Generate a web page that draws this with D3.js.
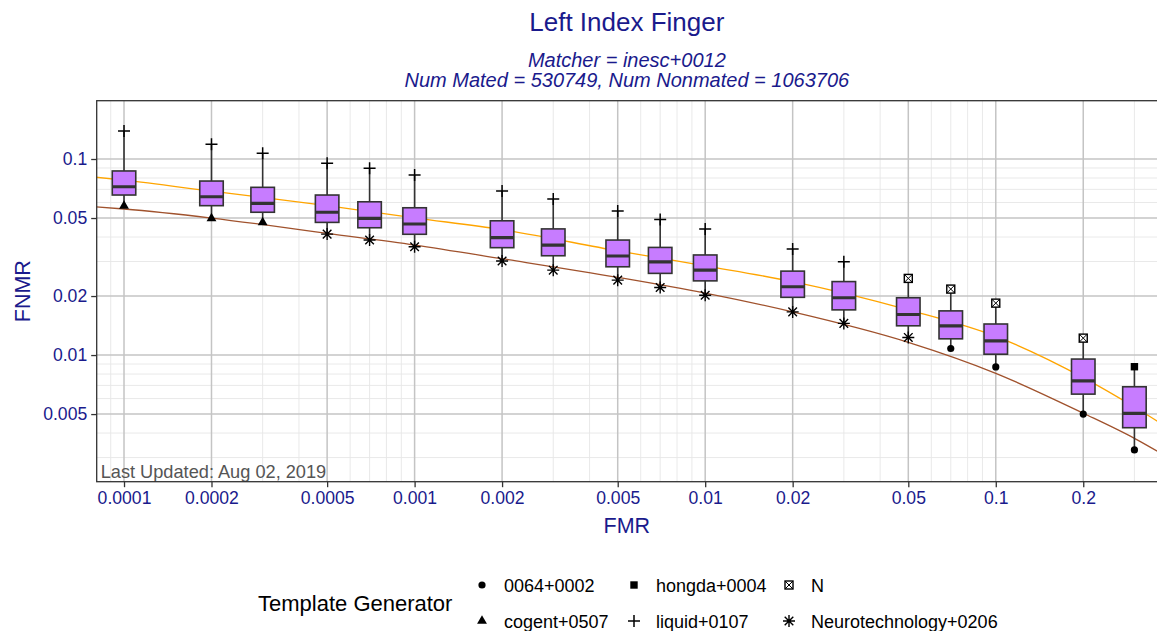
<!DOCTYPE html>
<html>
<head>
<meta charset="utf-8">
<script src="https://d3js.org/d3.v7.min.js"></script>
<style>
  body { margin: 0; background: #fff; }
  svg { font-family: "Liberation Sans", Arial, sans-serif; }
</style>
</head>
<body>
<svg id="chart" width="1157" height="631"></svg>
<script>
// operating points (FMR) with FNMR spread over template generators
const fmr = [0.0001, 0.0002, 0.0003, 0.0005, 0.0007, 0.001, 0.002, 0.003, 0.005, 0.007,
             0.01, 0.02, 0.03, 0.05, 0.07, 0.1, 0.2, 0.3];
const fnmrMax = [0.139, 0.119, 0.107, 0.0951, 0.0897, 0.0829, 0.0687, 0.0625, 0.0543, 0.0492,
                 0.0440, 0.0347, 0.0299, 0.0246, 0.0217, 0.0184, 0.0122, 0.00872];
const fnmrQ3 = [0.0869, 0.0772, 0.0717, 0.0655, 0.0605, 0.0564, 0.0484, 0.0440, 0.0386, 0.0354,
                0.0324, 0.0268, 0.0237, 0.0196, 0.0168, 0.0144, 0.00954, 0.00689];
const fnmrMed = [0.0722, 0.0642, 0.0594, 0.0535, 0.0498, 0.0466, 0.0397, 0.0364, 0.0320, 0.0299,
                 0.0271, 0.0223, 0.0196, 0.0161, 0.0141, 0.0118, 0.00739, 0.00504];
const fnmrQ1 = [0.0655, 0.0578, 0.0535, 0.0475, 0.0446, 0.0413, 0.0353, 0.0321, 0.0282, 0.0261,
                0.0239, 0.0197, 0.0170, 0.0141, 0.0121, 0.0101, 0.00632, 0.00426];
const fnmrMin = [0.0576, 0.0498, 0.0475, 0.0414, 0.0386, 0.0357, 0.0302, 0.0271, 0.0241, 0.0221,
                 0.0202, 0.0166, 0.0145, 0.0123, 0.0108, 0.0087, 0.0050, 0.00328];
const maxGen = ["liquid+0107", "liquid+0107", "liquid+0107", "liquid+0107", "liquid+0107", "liquid+0107",
                "liquid+0107", "liquid+0107", "liquid+0107", "liquid+0107", "liquid+0107", "liquid+0107",
                "liquid+0107", "N", "N", "N", "N", "hongda+0004"];
const minGen = ["cogent+0507", "cogent+0507", "cogent+0507", "Neurotechnology+0206", "Neurotechnology+0206",
                "Neurotechnology+0206", "Neurotechnology+0206", "Neurotechnology+0206", "Neurotechnology+0206",
                "Neurotechnology+0206", "Neurotechnology+0206", "Neurotechnology+0206", "Neurotechnology+0206",
                "Neurotechnology+0206", "0064+0002", "0064+0002", "0064+0002", "0064+0002"];

// reference curves
const curveFmr = [0.00008, 0.0001, 0.0002, 0.0005, 0.001, 0.002, 0.005, 0.01, 0.02, 0.05, 0.1, 0.2, 0.3, 0.4];
const orangeFnmr = [0.0807, 0.0780, 0.0685, 0.0578, 0.0501, 0.0436, 0.0340, 0.0285, 0.0237, 0.0170,
                    0.01245, 0.00767, 0.00543, 0.00416];
const brownFnmr = [0.0570, 0.0556, 0.0500, 0.0417, 0.0364, 0.0310, 0.0249, 0.0207, 0.0166, 0.01161,
                   0.00807, 0.00505, 0.00376, 0.00295];

const xTicks = [0.0001, 0.0002, 0.0005, 0.001, 0.002, 0.005, 0.01, 0.02, 0.05, 0.1, 0.2];
const xTickLabels = ["0.0001", "0.0002", "0.0005", "0.001", "0.002", "0.005", "0.01", "0.02", "0.05", "0.1", "0.2"];
const yTicks = [0.005, 0.01, 0.02, 0.05, 0.1];
const yTickLabels = ["0.005", "0.01", "0.02", "0.05", "0.1"];

const legendItems = ["0064+0002", "cogent+0507", "hongda+0004", "liquid+0107", "N", "Neurotechnology+0206"];

const navy = "#1a1a8c";
const pL = 96.7, pR = 1161.7, pT = 100.7, pB = 481.7;

const svg = d3.select("#chart");

const x = d3.scaleLog().domain([Math.pow(10, -4.094), Math.pow(10, -0.429)]).range([pL, pR]);
const y = d3.scaleLog().domain([Math.pow(10, -2.646), Math.pow(10, -0.7026)]).range([pB, pT]);

// minor grid = every k*10^n inside the domain that is not a major break
function minors(scale, majors) {
  const [a, b] = scale.domain();
  const out = [];
  for (let e = -6; e <= 0; e++) {
    for (let k = 1; k <= 9; k++) {
      const v = +(k * Math.pow(10, e)).toPrecision(3);
      if (v >= a && v <= b && !majors.some(m => Math.abs(m - v) / m < 1e-6)) out.push(v);
    }
  }
  return out;
}

svg.append("defs").append("clipPath").attr("id", "panel")
  .append("rect").attr("x", pL).attr("y", pT).attr("width", pR - pL).attr("height", pB - pT);

const grid = svg.append("g");
grid.selectAll(".xmin").data(minors(x, xTicks)).enter().append("line")
  .attr("x1", d => x(d)).attr("x2", d => x(d)).attr("y1", pT).attr("y2", pB)
  .attr("stroke", "#e6e6e6").attr("stroke-width", 0.9);
grid.selectAll(".ymin").data(minors(y, yTicks)).enter().append("line")
  .attr("x1", pL).attr("x2", pR).attr("y1", d => y(d)).attr("y2", d => y(d))
  .attr("stroke", "#e6e6e6").attr("stroke-width", 0.9);
grid.selectAll(".xmaj").data(xTicks).enter().append("line")
  .attr("x1", d => x(d)).attr("x2", d => x(d)).attr("y1", pT).attr("y2", pB)
  .attr("stroke", "#c4c4c4").attr("stroke-width", 1.5);
grid.selectAll(".ymaj").data(yTicks).enter().append("line")
  .attr("x1", pL).attr("x2", pR).attr("y1", d => y(d)).attr("y2", d => y(d))
  .attr("stroke", "#c4c4c4").attr("stroke-width", 1.5);

const plot = svg.append("g").attr("clip-path", "url(#panel)");

const line = d3.line().x(d => x(d[0])).y(d => y(d[1])).curve(d3.curveMonotoneX);
plot.append("path").datum(d3.zip(curveFmr, orangeFnmr)).attr("d", line)
  .attr("fill", "none").attr("stroke", "#FFA500").attr("stroke-width", 1.3);
plot.append("path").datum(d3.zip(curveFmr, brownFnmr)).attr("d", line)
  .attr("fill", "none").attr("stroke", "#A0522D").attr("stroke-width", 1.3);

const boxes = fmr.map((f, i) => ({
  f: f, max: fnmrMax[i], q3: fnmrQ3[i], med: fnmrMed[i], q1: fnmrQ1[i], min: fnmrMin[i],
  maxGen: maxGen[i], minGen: minGen[i]
}));
const boxW = 23.5;

const bg = plot.selectAll(".box").data(boxes).enter().append("g");
bg.append("line").attr("x1", d => x(d.f)).attr("x2", d => x(d.f))
  .attr("y1", d => y(d.max)).attr("y2", d => y(d.q3))
  .attr("stroke", "#333").attr("stroke-width", 1.6);
bg.append("line").attr("x1", d => x(d.f)).attr("x2", d => x(d.f))
  .attr("y1", d => y(d.q1)).attr("y2", d => y(d.min))
  .attr("stroke", "#333").attr("stroke-width", 1.6);
bg.append("rect").attr("x", d => x(d.f) - boxW / 2).attr("width", boxW)
  .attr("y", d => y(d.q3)).attr("height", d => y(d.q1) - y(d.q3))
  .attr("fill", "#C77CFF").attr("stroke", "#333").attr("stroke-width", 1.6);
bg.append("line").attr("x1", d => x(d.f) - boxW / 2).attr("x2", d => x(d.f) + boxW / 2)
  .attr("y1", d => y(d.med)).attr("y2", d => y(d.med))
  .attr("stroke", "#333").attr("stroke-width", 3.2);

// glyphs for the template generators
function drawShape(g, name, cx, cy) {
  const s = g.append("g").attr("transform", `translate(${cx},${cy})`);
  if (name === "0064+0002") {
    s.append("circle").attr("r", 3.6).attr("fill", "#000");
  } else if (name === "cogent+0507") {
    s.append("path").attr("d", d3.symbol(d3.symbolTriangle, 42)()).attr("fill", "#000");
  } else if (name === "hongda+0004") {
    s.append("rect").attr("x", -3.7).attr("y", -3.7).attr("width", 7.4).attr("height", 7.4).attr("fill", "#000");
  } else if (name === "liquid+0107") {
    s.append("path").attr("d", "M-6,0H6M0,-6V6").attr("stroke", "#000").attr("stroke-width", 1.5);
  } else if (name === "N") {
    s.append("rect").attr("x", -4).attr("y", -4).attr("width", 8).attr("height", 8)
      .attr("fill", "#fff").attr("stroke", "#000").attr("stroke-width", 1.4);
    s.append("path").attr("d", "M-4,-4L4,4M-4,4L4,-4").attr("stroke", "#000").attr("stroke-width", 1);
  } else {
    s.append("path").attr("d", "M-6,0H6M0,-6V6M-4.3,-4.3L4.3,4.3M-4.3,4.3L4.3,-4.3")
      .attr("stroke", "#000").attr("stroke-width", 1.4);
  }
}
boxes.forEach(d => {
  drawShape(plot, d.maxGen, x(d.f), y(d.max));
  drawShape(plot, d.minGen, x(d.f), y(d.min));
});

svg.append("text").attr("x", pL + 4).attr("y", pB - 4)
  .attr("font-size", 18.2).attr("fill", "#555").text("Last Updated: Aug 02, 2019");

// panel border
svg.append("rect").attr("x", pL).attr("y", pT).attr("width", pR - pL).attr("height", pB - pT)
  .attr("fill", "none").attr("stroke", "#333").attr("stroke-width", 1.3);

// axes
const xAxis = svg.append("g").attr("transform", `translate(0,${pB})`)
  .call(d3.axisBottom(x).tickValues(xTicks).tickFormat((d, i) => xTickLabels[i]).tickSize(5.5).tickPadding(4));
const yAxis = svg.append("g").attr("transform", `translate(${pL},0)`)
  .call(d3.axisLeft(y).tickValues(yTicks).tickFormat((d, i) => yTickLabels[i]).tickSize(5.5).tickPadding(4));
[xAxis, yAxis].forEach(a => {
  a.select(".domain").remove();
  a.selectAll(".tick line").attr("stroke", "#333").attr("stroke-width", 1.3);
  a.selectAll(".tick text").attr("fill", navy).attr("font-size", 17.6)
    .attr("font-family", "'Liberation Sans', Arial, sans-serif");
});

// titles
const cx = (pL + 1157) / 2;
svg.append("text").attr("x", cx).attr("y", 31).attr("text-anchor", "middle")
  .attr("font-size", 26).attr("fill", navy).text("Left Index Finger");
svg.append("text").attr("x", cx).attr("y", 67).attr("text-anchor", "middle")
  .attr("font-size", 20).attr("font-style", "italic").attr("fill", navy).text("Matcher = inesc+0012");
svg.append("text").attr("x", cx).attr("y", 87).attr("text-anchor", "middle")
  .attr("font-size", 20).attr("font-style", "italic").attr("fill", navy)
  .text("Num Mated = 530749, Num Nonmated = 1063706");

svg.append("text").attr("x", cx).attr("y", 533).attr("text-anchor", "middle")
  .attr("font-size", 21.5).attr("fill", navy).text("FMR");
svg.append("text").attr("transform", `translate(29.5,${(pT + pB) / 2}) rotate(-90)`)
  .attr("text-anchor", "middle").attr("font-size", 21.5).attr("fill", navy).text("FNMR");

// legend
const lg = svg.append("g");
lg.append("text").attr("x", 258).attr("y", 611).attr("font-size", 22).attr("fill", "#000").text("Template Generator");
const keyX = [482, 634, 789];
const rowY = [585, 621];
legendItems.forEach((name, i) => {
  const col = Math.floor(i / 2), row = i % 2;
  drawShape(lg, name, keyX[col], rowY[row]);
  lg.append("text").attr("x", keyX[col] + 22).attr("y", rowY[row] + 6.5)
    .attr("font-size", 18).attr("fill", "#000").text(name);
});
</script>
</body>
</html>
